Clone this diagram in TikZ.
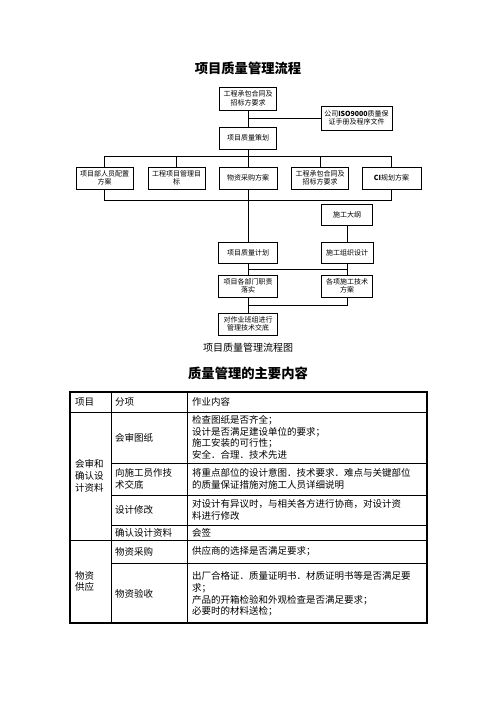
\documentclass[tikz,border=0pt]{standalone}
\usepackage{fontspec}
\setmainfont{Noto Sans CJK SC}
\begin{document}
\begin{tikzpicture}[x=1pt,y=-1pt,
  box/.style={draw, line width=0.8pt, inner sep=0pt, align=center, font=\fontsize{7}{8.5}\selectfont},
  ln/.style={line width=0.8pt},
  cell/.style={anchor=west, inner sep=0pt, align=left, font=\fontsize{9.5}{11.7}\selectfont},
  ttl/.style={inner sep=0pt, font=\fontsize{13.3}{15}\selectfont\bfseries},
  tin/.style={line width=0.7pt},
  tout/.style={line width=1.2pt}
]
\useasboundingbox (0,0) rectangle (496,702);

% titles
\node[ttl] (t1) at (248,68) {项目质量管理流程};

% flowchart boxes
\node[box, minimum width=57pt, minimum height=23pt] (b1) at (248,98.5) {工程承包合同及\\招标方要求};
\node[box, minimum width=71pt, minimum height=24pt] (iso) at (356.5,118) {公司\textbf{ISO9000}质量保\\证手册及程序文件};
\node[box, minimum width=57pt, minimum height=22pt] (b2) at (248,138) {项目质量策划};

\node[box, minimum width=57pt, minimum height=22pt] (A) at (104.5,178) {项目部人员配置\\方案};
\node[box, minimum width=57pt, minimum height=22pt] (B) at (176.5,178) {工程项目管理目\\标};
\node[box, minimum width=58pt, minimum height=22pt] (C) at (248,178) {物资采购方案};
\node[box, minimum width=57pt, minimum height=22pt] (D) at (320,178) {工程承包合同及\\招标方要求};
\node[box, minimum width=59pt, minimum height=22pt] (E) at (391.5,178) {\textbf{CI}规划方案};

\node[box, minimum width=51pt, minimum height=21pt] (sg) at (347,214.5) {施工大纲};
\node[box, minimum width=59pt, minimum height=21pt] (pq) at (248,253) {项目质量计划};
\node[box, minimum width=52pt, minimum height=21pt] (zz) at (347,253) {施工组织设计};
\node[box, minimum width=59pt, minimum height=22pt] (bm) at (248,286) {项目各部门职责\\落实};
\node[box, minimum width=51pt, minimum height=22pt] (js) at (347,286) {各项施工技术\\方案};
\node[box, minimum width=59pt, minimum height=22pt] (dz) at (248,324) {对作业班组进行\\管理技术交底};

\node[inner sep=0pt, font=\fontsize{10}{12}\selectfont] (cap) at (248,348) {项目质量管理流程图};

% connectors
\coordinate (busT) at (248,156);
\coordinate (busB) at (248,200);
\coordinate (bus3) at (248,269);
\coordinate (bus4) at (248,305);
\draw[ln] (b1.south) -- (b2.north);
\draw[ln] (iso.west) -- (b1.south |- iso.west);
\draw[ln] (b2.south) -- (C.north);
\draw[ln] (A.north) -- (A.north |- busT) -- (E.north |- busT) -- (E.north);
\draw[ln] (B.north) -- (B.north |- busT);
\draw[ln] (D.north) -- (D.north |- busT);
\draw[ln] (A.south) -- (A.south |- busB) -- (E.south |- busB) -- (E.south);
\draw[ln] (C.south) -- (pq.north);
\draw[ln] (sg.south) -- (zz.north);
\draw[ln] (pq.south) -- (bm.north);
\draw[ln] (zz.south) -- (js.north);
\draw[ln] (pq.south |- bus3) -- (zz.south |- bus3);
\draw[ln] (bm.south) -- (dz.north);
\draw[ln] (bm.south |- bus4) -- (js.south |- bus4) -- (js.south);

% table title
\node[ttl] (t2) at (248,373) {质量管理的主要内容};

% table lines
\draw[tin] (111,392) -- (111,623);
\draw[tin] (187,392) -- (187,623);
\draw[tin] (70,412) -- (427,412);
\draw[tin] (70,540) -- (427,540);
\draw[tin] (111,463) -- (427,463);
\draw[tin] (111,495) -- (427,495);
\draw[tin] (111,525) -- (427,525);
\draw[tin] (111,563) -- (427,563);
\draw[tout] (70,392) rectangle (427,623);

% header
\node[cell] (h1) at (75,402) {项目};
\node[cell] (h2) at (115,402) {分项};
\node[cell] (h3) at (192,402) {作业内容};

% column 1
\node[cell] (g1) at (75,476) {会审和\\确认设\\计资料};
\node[cell] (g2) at (75,581.5) {物资\\供应};

% column 2
\node[cell] (s1) at (115,437.5) {会审图纸};
\node[cell] (s2) at (115,479) {向施工员作技\\术交底};
\node[cell] (s3) at (115,510) {设计修改};
\node[cell] (s4) at (115,532.5) {确认设计资料};
\node[cell] (s5) at (115,551.5) {物资采购};
\node[cell] (s6) at (115,594) {物资验收};

% column 3
\node[cell] (c1) at (192,437.5) {检查图纸是否齐全；\\设计是否满足建设单位的要求；\\施工安装的可行性；\\安全．合理．技术先进};
\node[cell] (c2) at (192,479) {将重点部位的设计意图．技术要求．难点与关键部位\\的质量保证措施对施工人员详细说明};
\node[cell] (c3) at (192,510) {对设计有异议时，与相关各方进行协商，对设计资\\料进行修改};
\node[cell] (c4) at (192,532.5) {会签};
\node[cell] (c5) at (192,551.5) {供应商的选择是否满足要求；};
\node[cell] (c6) at (192,594) {出厂合格证．质量证明书．材质证明书等是否满足要\\求；\\产品的开箱检验和外观检查是否满足要求；\\必要时的材料送检；};
\end{tikzpicture}
\end{document}
